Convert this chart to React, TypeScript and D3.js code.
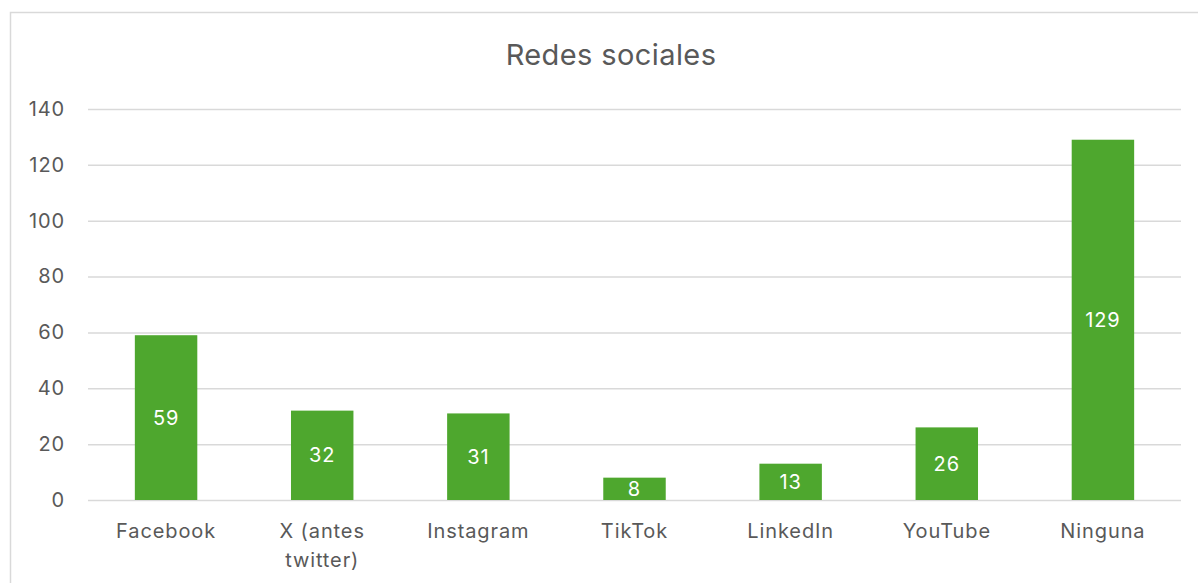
import React, { useEffect, useRef } from 'react';
import * as d3 from 'd3';

const categories = ['Facebook', 'X (antes twitter)', 'Instagram', 'TikTok', 'LinkedIn', 'YouTube', 'Ninguna'];
const values = [59, 32, 31, 8, 13, 26, 129];
const yTicks = [0, 20, 40, 60, 80, 100, 120, 140];
const title = 'Redes sociales';

const width = 1198;
const height = 583;
const FONT = 'Inter, "Open Sans", sans-serif';

const App: React.FC = () => {
  const ref = useRef<SVGSVGElement | null>(null);
  const margin = { top: 109, right: 17, bottom: 83, left: 88 };

  useEffect(() => {
    if (!ref.current) return;
    const svg = d3.select(ref.current);
    svg.selectAll('*').remove();

    // chart frame (runs off the right and bottom edges)
    svg.append('rect')
      .attr('x', 10.5).attr('y', 12.5)
      .attr('width', 1220).attr('height', 600)
      .attr('fill', '#fff')
      .attr('stroke', '#d9d9d9')
      .attr('stroke-width', 1.5);

    const x = d3.scaleBand<string>()
      .domain(categories)
      .range([margin.left, width - margin.right])
      .paddingInner(0.6)
      .paddingOuter(0.3);

    const y = d3.scaleLinear()
      .domain([0, 140])
      .range([height - margin.bottom, margin.top]);

    svg.append('text')
      .attr('x', 611)
      .attr('y', 65)
      .attr('text-anchor', 'middle')
      .attr('fill', '#595959')
      .style('font-family', FONT)
      .style('font-size', '29px')
      .style('letter-spacing', '0.4px')
      .text(title);

    const yAxis = d3.axisLeft(y).tickValues(yTicks).tickSize(0).tickPadding(23);
    svg.append('g')
      .attr('transform', `translate(${margin.left},0)`)
      .call(yAxis)
      .call(g => g.select('.domain').remove())
      .call(g => g.selectAll('.tick text')
        .attr('fill', '#595959')
        .style('font-family', FONT)
        .style('font-size', '20px')
        .style('letter-spacing', '0.9px'))
      .call(g => g.selectAll('.tick line')
        .attr('x2', width - margin.left - margin.right)
        .attr('stroke', '#d9d9d9')
        .attr('stroke-width', 1.5));

    svg.append('g')
      .selectAll('rect')
      .data(values)
      .join('rect')
        .attr('x', (_, i) => x(categories[i])!)
        .attr('y', d => y(d))
        .attr('width', x.bandwidth())
        .attr('height', d => y(0) - y(d))
        .attr('fill', '#4ea72e');

    svg.append('g')
      .selectAll('text')
      .data(values)
      .join('text')
        .attr('x', (_, i) => x(categories[i])! + x.bandwidth() / 2)
        .attr('y', d => (y(d) + y(0)) / 2)
        .attr('dy', '0.35em')
        .attr('text-anchor', 'middle')
        .attr('fill', '#fff')
        .style('font-family', FONT)
        .style('font-size', '20px')
        .style('letter-spacing', '0.9px')
        .text(d => d);

    // category labels, wrapped to the band step
    const step = x.step();
    const labels = svg.append('g')
      .selectAll('text')
      .data(categories)
      .join('text')
        .attr('x', d => x(d)! + x.bandwidth() / 2)
        .attr('y', height - margin.bottom + 38)
        .attr('text-anchor', 'middle')
        .attr('fill', '#595959')
        .style('font-family', FONT)
        .style('font-size', '20px')
        .style('letter-spacing', '0.9px');

    labels.each(function (d) {
      const text = d3.select(this);
      const words = d.split(' ');
      const cx = text.attr('x');
      let line: string[] = [];
      let tspan = text.append('tspan').attr('x', cx).attr('dy', 0);
      words.forEach(w => {
        line.push(w);
        tspan.text(line.join(' '));
        if ((tspan.node() as SVGTSpanElement).getComputedTextLength() > step * 0.7 && line.length > 1) {
          line.pop();
          tspan.text(line.join(' '));
          line = [w];
          tspan = text.append('tspan').attr('x', cx).attr('dy', 28.5).text(w);
        }
      });
    });
  }, []);

  return (
    <svg
      ref={ref}
      width={width}
      height={height}
      style={{ position: 'fixed', left: 0, top: 0, background: '#fff' }}
    />
  );
};

export default App;
